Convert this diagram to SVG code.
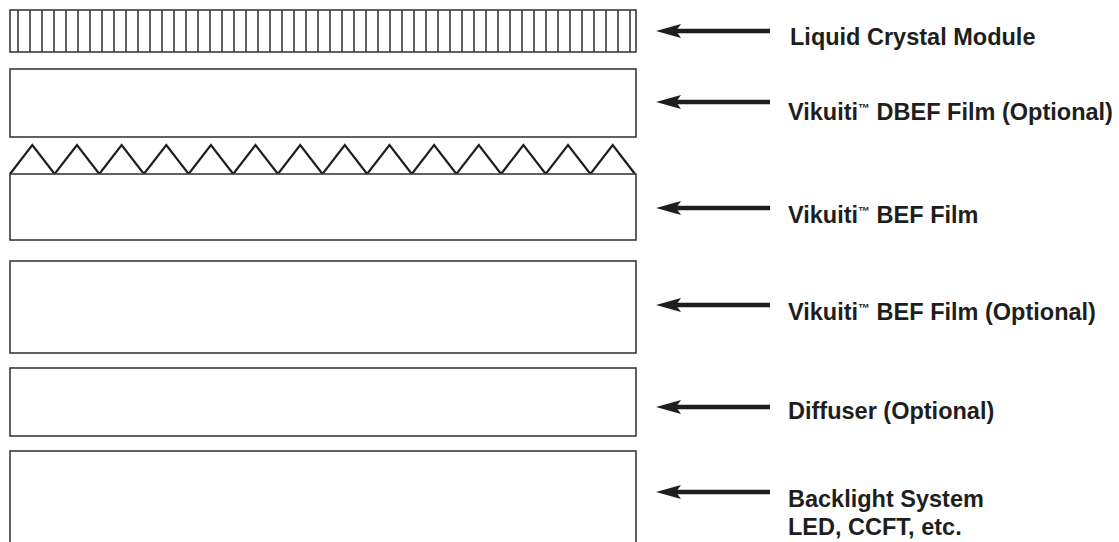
<svg xmlns="http://www.w3.org/2000/svg" xmlns:xlink="http://www.w3.org/1999/xlink" width="1119" height="542" viewBox="0 0 1119 542">
<defs>
<style>
.layer{fill:#fff;stroke:#3a3a3a;stroke-width:1.6}
.cell{stroke:#3a3a3a;stroke-width:1.6}
.prism{fill:none;stroke:#1e1e1e;stroke-width:2.2;stroke-linejoin:miter}
.shaft{stroke:#1e1e1e;stroke-width:4.5}
.head{fill:#1e1e1e}
.lbl{font-family:"Liberation Sans",Arial,sans-serif;font-weight:bold;font-size:23.5px;fill:#1e1e1e}
.tm{font-size:12px}
</style>
<path id="ah" d="M0,0 L25,-7 L20,0 L25,7 Z"/>
</defs>
<rect width="1119" height="542" fill="#fff"/>

<g id="lc-module">
<rect class="layer" x="10" y="10" width="626" height="42"/>
<path class="cell" d="M18,10V52M30,10V52M42,10V52M54,10V52M66,10V52M78,10V52M90,10V52M102,10V52M114,10V52M126,10V52M138,10V52M150,10V52M162,10V52M174,10V52M186,10V52M198,10V52M210,10V52M222,10V52M234,10V52M246,10V52M258,10V52M270,10V52M282,10V52M294,10V52M306,10V52M318,10V52M330,10V52M342,10V52M354,10V52M366,10V52M378,10V52M390,10V52M402,10V52M414,10V52M426,10V52M438,10V52M450,10V52M462,10V52M474,10V52M486,10V52M498,10V52M510,10V52M522,10V52M534,10V52M546,10V52M558,10V52M570,10V52M582,10V52M594,10V52M606,10V52M618,10V52M630,10V52"/>
<text class="lbl" x="790" y="45">Liquid Crystal Module</text>
</g>

<g id="dbef-film">
<rect class="layer" x="10" y="69" width="626" height="68"/>
<text class="lbl" x="788" y="120">Vikuiti<tspan class="tm" dy="-8">™</tspan><tspan dy="8"> DBEF Film (Optional)</tspan></text>
</g>

<g id="bef-film">
<polyline class="prism" points="10,174 32.3,145 54.6,174 77,145 99.3,174 121.6,145 143.9,174 166.3,145 188.6,174 210.9,145 233.2,174 255.5,145 277.9,174 300.2,145 322.5,174 344.8,145 367.1,174 389.5,145 411.8,174 434.1,145 456.4,174 478.8,145 501.1,174 523.4,145 545.7,174 568,145 590.4,174 612.7,145 635,174"/>
<rect class="layer" x="10" y="174" width="626" height="66"/>
<text class="lbl" x="788" y="223">Vikuiti<tspan class="tm" dy="-8">™</tspan><tspan dy="8"> BEF Film</tspan></text>
</g>

<g id="bef-film-optional">
<rect class="layer" x="10" y="261" width="626" height="92"/>
<text class="lbl" x="788" y="320">Vikuiti<tspan class="tm" dy="-8">™</tspan><tspan dy="8"> BEF Film (Optional)</tspan></text>
</g>

<g id="diffuser">
<rect class="layer" x="10" y="368" width="626" height="68"/>
<text class="lbl" x="788" y="419">Diffuser (Optional)</text>
</g>

<g id="backlight">
<rect class="layer" x="10" y="451" width="626" height="100"/>
<text class="lbl" x="788" y="507">Backlight System</text>
<text class="lbl" x="788" y="535">LED, CCFT, etc.</text>
</g>

<g id="connectors">
<line class="shaft" x1="674" y1="31" x2="770" y2="31"/><use href="#ah" xlink:href="#ah" class="head" x="656" y="31"/>
<line class="shaft" x1="674" y1="102" x2="770" y2="102"/><use href="#ah" xlink:href="#ah" class="head" x="656" y="102"/>
<line class="shaft" x1="674" y1="208" x2="770" y2="208"/><use href="#ah" xlink:href="#ah" class="head" x="656" y="208"/>
<line class="shaft" x1="674" y1="305" x2="770" y2="305"/><use href="#ah" xlink:href="#ah" class="head" x="656" y="305"/>
<line class="shaft" x1="674" y1="407" x2="770" y2="407"/><use href="#ah" xlink:href="#ah" class="head" x="656" y="407"/>
<line class="shaft" x1="674" y1="492" x2="770" y2="492"/><use href="#ah" xlink:href="#ah" class="head" x="656" y="492"/>
</g>
</svg>
